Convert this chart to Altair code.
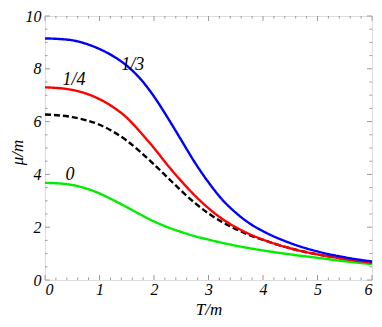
import altair as alt
import pandas as pd

# ---- data ----
T_blue = [0, 0.25, 0.5, 0.75, 1.0, 1.25, 1.5, 1.75, 2.0, 2.25, 2.5, 2.75, 3.0, 3.25, 3.5, 3.75, 4.0, 4.5, 5.0, 5.5, 6.0]
mu_blue = [9.15, 9.13, 9.08, 8.95, 8.75, 8.48, 8.12, 7.62, 6.95, 6.15, 5.3, 4.45, 3.7, 3.05, 2.55, 2.15, 1.85, 1.4, 1.08, 0.86, 0.7]

T_red = [0, 0.5, 1.0, 1.25, 1.5, 1.75, 2.0, 2.25, 2.5, 2.75, 3.0, 3.25, 3.5, 3.75, 4.0, 4.5, 5.0, 5.5, 6.0]
mu_red = [7.3, 7.2, 6.85, 6.55, 6.15, 5.6, 5.0, 4.35, 3.75, 3.2, 2.72, 2.32, 2.0, 1.74, 1.53, 1.2, 0.97, 0.8, 0.65]

T_black = [0, 0.5, 1.0, 1.25, 1.5, 1.75, 2.0, 2.25, 2.5, 2.75, 3.0, 3.25, 3.5, 3.75, 4.0, 4.5, 5.0, 5.5, 6.0]
mu_black = [6.27, 6.17, 5.88, 5.62, 5.28, 4.85, 4.38, 3.88, 3.38, 2.92, 2.52, 2.2, 1.93, 1.7, 1.52, 1.2, 0.97, 0.8, 0.65]

T_green = [0, 0.25, 0.5, 0.75, 1.0, 1.25, 1.5, 1.75, 2.0, 2.25, 2.5, 2.75, 3.0, 3.5, 4.0, 4.5, 5.0, 5.5, 6.0]
mu_green = [3.68, 3.66, 3.6, 3.47, 3.28, 3.03, 2.76, 2.48, 2.22, 2.0, 1.82, 1.66, 1.53, 1.3, 1.12, 0.97, 0.84, 0.71, 0.6]

label_text = ["1/3", "1/4", "0"]
label_T = [1.61, 0.53, 0.46]
label_mu = [8.13, 7.58, 3.96]

x_major = [0, 1, 2, 3, 4, 5, 6]
x_minor = [round(v * 0.2, 2) for v in range(0, 31) if v % 5 != 0]
y_major = [0, 2, 4, 6, 8, 10]
y_minor = [round(v * 0.5, 2) for v in range(0, 21) if v % 4 != 0]

W, H = 327, 264
FONT = "Liberation Serif"
GRAY = "#9a9a9a"

series = ["black", "green", "red", "blue"]
colors = ["#000000", "#00ee00", "#ff0000", "#0000ff"]

rows = []
for name, Ts, ms in [("black", T_black, mu_black), ("green", T_green, mu_green),
                     ("red", T_red, mu_red), ("blue", T_blue, mu_blue)]:
    for t, m in zip(Ts, ms):
        rows.append({"series": name, "T": t, "mu": m})
df = pd.DataFrame(rows)

xs = alt.Scale(domain=[0, 6], nice=False, zero=False)
ys = alt.Scale(domain=[0, 10], nice=False, zero=False)

xaxis = alt.Axis(values=x_major, format="d", domain=False, ticks=False, grid=False,
                 labelFont=FONT, labelFontStyle="italic", labelFontSize=16, labelColor="#000",
                 labelPadding=1, title="T/m", titleFont=FONT, titleFontStyle="italic",
                 titleFontWeight="normal", titleFontSize=17, titleColor="#000",
                 titleBaseline="middle", titleY=29, titleX=W / 2)
yaxis = alt.Axis(values=y_major, format="d", domain=False, ticks=False, grid=False,
                 labelFont=FONT, labelFontStyle="italic", labelFontSize=16, labelColor="#000",
                 labelPadding=4, title="μ/m", titleFont=FONT, titleFontStyle="italic",
                 titleFontWeight="normal", titleFontSize=17, titleColor="#000",
                 titleBaseline="middle", titleX=-28, titleY=H / 2 + 4)

lines = alt.Chart(df).mark_line(strokeWidth=2.4, interpolate="monotone").encode(
    x=alt.X("T:Q", scale=xs, axis=xaxis),
    y=alt.Y("mu:Q", scale=ys, axis=yaxis),
    color=alt.Color("series:N", scale=alt.Scale(domain=series, range=colors), legend=None),
    strokeDash=alt.StrokeDash("series:N", scale=alt.Scale(domain=series,
                              range=[[6, 3], [1, 0], [1, 0], [1, 0]]), legend=None),
    order=alt.Order("T:Q"),
    detail="series:N",
)

lab_df = pd.DataFrame({"text": label_text, "T": label_T, "mu": label_mu})
labels = alt.Chart(lab_df).mark_text(font=FONT, fontStyle="italic", fontSize=18,
                                     color="#000", align="center", baseline="middle").encode(
    x=alt.X("T:Q", scale=xs), y=alt.Y("mu:Q", scale=ys), text="text:N")

def xticks(vals, length):
    d = pd.DataFrame({"v": vals})
    base = alt.Chart(d).mark_rule(color=GRAY, strokeWidth=1)
    bottom = base.encode(x=alt.X("v:Q", scale=xs), y=alt.value(H), y2=alt.value(H - length))
    top = base.encode(x=alt.X("v:Q", scale=xs), y=alt.value(0), y2=alt.value(length))
    return [bottom, top]

def yticks(vals, length):
    d = pd.DataFrame({"v": vals})
    base = alt.Chart(d).mark_rule(color=GRAY, strokeWidth=1)
    left = base.encode(y=alt.Y("v:Q", scale=ys), x=alt.value(0), x2=alt.value(length))
    right = base.encode(y=alt.Y("v:Q", scale=ys), x=alt.value(W), x2=alt.value(W - length))
    return [left, right]

tick_layers = xticks(x_major, 5) + xticks(x_minor, 2.5) + yticks(y_major, 5) + yticks(y_minor, 2.5)

chart = alt.layer(*tick_layers, lines, labels).properties(
    width=W, height=H,
    autosize=alt.AutoSizeParams(type="none"),
    padding={"left": 37, "top": 8, "right": 2, "bottom": 38},
).configure_view(stroke=GRAY, strokeWidth=1).configure(background="white")

chart.save("out.html", embed_options={"renderer": "svg", "actions": False})
